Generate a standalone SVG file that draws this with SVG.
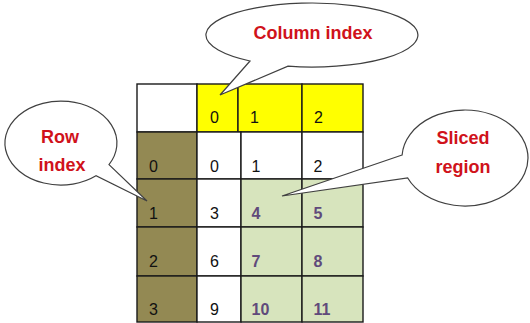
<svg xmlns="http://www.w3.org/2000/svg" width="530" height="323" viewBox="0 0 530 323">
<style>
.cell{stroke:#1a1a1a;stroke-width:1.4}
.w{fill:#ffffff}.y{fill:#ffff00}.o{fill:#938953}.g{fill:#d7e4bd}
.d{font-family:"Liberation Sans",Arial,sans-serif;font-size:16px;fill:#111}
.p{font-family:"Liberation Sans",Arial,sans-serif;font-size:16px;font-weight:bold;fill:#604a7b}
.call{fill:#ffffff;stroke:#404040;stroke-width:1.2}
.lbl{font-family:"Liberation Sans",Arial,sans-serif;font-size:18px;font-weight:bold;fill:#d0121b;text-anchor:middle}
</style>
<g id="table">
<rect class="cell w" x="137" y="84" width="60" height="48"/>
<rect class="cell y" x="197" y="84" width="41" height="48"/>
<rect class="cell y" x="238" y="84" width="64" height="48"/>
<rect class="cell y" x="302" y="84" width="61" height="48"/>
<rect class="cell o" x="137" y="132" width="60" height="47"/>
<rect class="cell o" x="137" y="179" width="60" height="48"/>
<rect class="cell o" x="137" y="227" width="60" height="49"/>
<rect class="cell o" x="137" y="276" width="60" height="46"/>
<rect class="cell w" x="197" y="132" width="44" height="47"/>
<rect class="cell w" x="197" y="179" width="44" height="48"/>
<rect class="cell w" x="197" y="227" width="44" height="49"/>
<rect class="cell w" x="197" y="276" width="44" height="46"/>
<rect class="cell w" x="241" y="132" width="61" height="47"/>
<rect class="cell g" x="241" y="179" width="61" height="48"/>
<rect class="cell g" x="241" y="227" width="61" height="49"/>
<rect class="cell g" x="241" y="276" width="61" height="46"/>
<rect class="cell w" x="302" y="132" width="61" height="47"/>
<rect class="cell g" x="302" y="179" width="61" height="48"/>
<rect class="cell g" x="302" y="227" width="61" height="49"/>
<rect class="cell g" x="302" y="276" width="61" height="46"/>
<text class="d" x="210" y="123">0</text>
<text class="d" x="250" y="123">1</text>
<text class="d" x="314" y="123">2</text>
<text class="d" x="149" y="171.5">0</text>
<text class="d" x="149" y="218.5">1</text>
<text class="d" x="149" y="266.5">2</text>
<text class="d" x="149" y="315">3</text>
<text class="d" x="210" y="171.5">0</text>
<text class="d" x="210" y="218.5">3</text>
<text class="d" x="210" y="266.5">6</text>
<text class="d" x="210" y="315">9</text>
<text class="d" x="251.5" y="171.5">1</text>
<text class="d" x="313.5" y="171.5">2</text>
<text class="p" x="251.5" y="218.5">4</text>
<text class="p" x="313.5" y="218.5">5</text>
<text class="p" x="251.5" y="266.5">7</text>
<text class="p" x="313.5" y="266.5">8</text>
<text class="p" x="251.5" y="315">10</text>
<text class="p" x="313.5" y="315">11</text>
</g>
<g id="connectors"></g>
<g id="column-index">
<path class="call" d="M250,61 L220,95 L288,66.2 A106,32 0 1 0 250,61 Z"/>
<text class="lbl" x="313" y="39">Column index</text>
</g>
<g id="row-index">
<path class="call" d="M109,164.6 L147,201 L96,175.8 A56,42 0 1 1 109,164.6 Z"/>
<text class="lbl" x="60" y="143">Row</text>
<text class="lbl" x="62" y="171">index</text>
</g>
<g id="sliced-region">
<path class="call" d="M402.1,155 L282,196 L407.7,178 A63,48 0 1 0 402.1,155 Z"/>
<text class="lbl" x="463" y="144">Sliced</text>
<text class="lbl" x="463" y="173">region</text>
</g>
</svg>
